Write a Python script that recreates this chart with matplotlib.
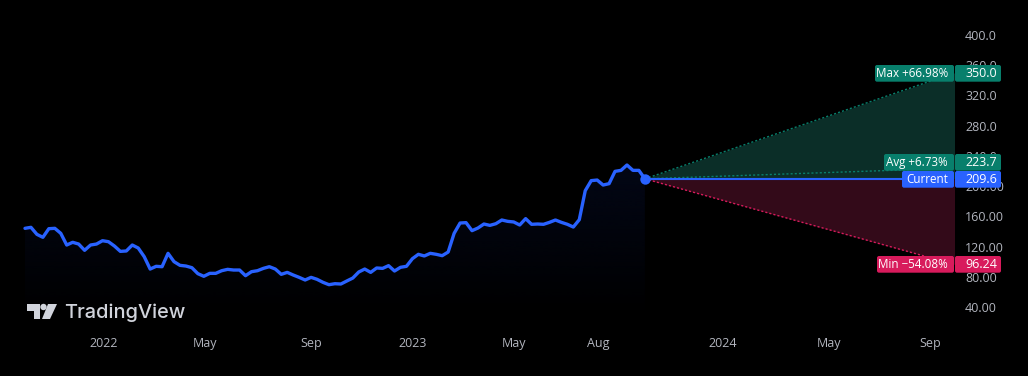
import numpy as np
import matplotlib
matplotlib.use('Agg')
import matplotlib.pyplot as plt
from matplotlib.patches import FancyBboxPatch, Polygon, Circle
from matplotlib.transforms import Affine2D

# weekly closes
prices_a = [144.1, 145.4, 136.1, 132.2, 143.6, 144.1, 137.5, 122.0, 125.6, 123.3,
            115.0, 122.0, 123.3, 127.7, 126.4, 120.7, 113.6, 114.1, 122.0, 118.0,
            106.6, 90.2, 93.8, 93.3, 111.0, 100.0, 95.1, 94.2, 92.0, 84.1,
            80.6, 84.5, 84.5, 88.0, 89.8, 88.9, 88.9, 81.4, 86.7, 88.0,
            91.1, 93.3, 90.2, 83.2, 85.8, 82.3, 79.2, 75.7, 79.2, 76.6,
            72.6, 69.5, 70.8]
prices_b = [70.4, 74.4, 78.3, 86.3, 90.2, 85.8, 91.6, 91.1, 94.7, 87.6,
            92.5, 93.8, 103.9, 109.7, 107.5, 111.0, 109.7, 107.9, 112.7, 137.4,
            151.1, 151.6, 141.0, 144.5, 149.8, 148.0, 150.2, 155.1, 153.3, 152.5,
            148.5, 156.9, 149.4, 149.8, 149.4, 152.0, 155.1, 152.0, 149.4, 145.8,
            155.5, 193.9, 207.2, 208.0, 201.4, 203.2, 219.5, 220.8, 227.9, 220.8,
            220.8, 209.8]
prices = np.array(prices_a + prices_b)

current = 209.6
target_max = 350.0
target_avg = 223.7
target_min = 96.24
horizon_weeks = 52

y_ticks = [400, 360, 320, 280, 240, 200, 160, 120, 80, 40]
y_tick_labels = ['400.0', '360.0', '320.0', '280.0', '240.0', '200.00', '160.00', '120.00', '80.00', '40.00']
x_tick_bars = [13.25, 30.2, 48.1, 65.1, 82.0, 96.1, 117, 134.9, 151.9]
x_tick_labels = ['2022', 'May', 'Sep', '2023', 'May', 'Aug', '2024', 'May', 'Sep']

BLUE = '#2962ff'
GREEN = '#087f6c'
RED = '#d81b5c'
W, H = 1028, 376
FONT = ['Open Sans', 'DejaVu Sans']

fig = plt.figure(figsize=(W / 100, H / 100), dpi=100, facecolor='black')
ax = fig.add_axes([0, (H - 330) / H, 954 / W, 330 / H], facecolor='black')

bars = np.arange(len(prices))
last = bars[-1]
end = last + horizon_weeks

# faint gradient under the line
grad = np.linspace(0, 1, 256).reshape(-1, 1)
rgba = np.zeros((256, 1, 4))
rgba[..., 0] = 3 / 255
rgba[..., 1] = 7 / 255
rgba[..., 2] = 22 / 255
rgba[..., 3] = 1 - grad
im = ax.imshow(rgba, extent=[bars[0], last, 25, prices.max()], aspect='auto', zorder=1)
area = ax.fill_between(bars, prices, 25, color='none')
im.set_clip_path(area.get_paths()[0], transform=ax.transData)

# forecast cone
ax.fill_between([last, end], [current, current], [current, target_max], color='#0b2e28', lw=0, zorder=2)
ax.fill_between([last, end], [current, current], [current, target_min], color='#330a19', lw=0, zorder=2)
ax.plot([last, end], [current, target_max], color=GREEN, lw=1, ls=(0, (1.5, 1.5)), zorder=3)
ax.plot([last, end], [current, target_avg], color=GREEN, lw=1, ls=(0, (1.5, 1.5)), zorder=3)
ax.plot([last, end], [current, target_min], color=RED, lw=1, ls=(0, (1.5, 1.5)), zorder=3)
ax.plot([last, end], [current, current], color=BLUE, lw=1.5, zorder=4)

ax.plot(bars, prices, color=BLUE, lw=2.4, solid_joinstyle='round', solid_capstyle='round', zorder=5)
ax.plot([last], [current], 'o', color=BLUE, ms=7.5, mew=0, zorder=6)

ax.set_xlim((0 - 25) / 5.96, (954 - 25) / 5.96)
ax.set_ylim((337.2 - 330) / 0.7556, 337.2 / 0.7556)

for s in ax.spines.values():
    s.set_visible(False)
ax.yaxis.tick_right()
ax.set_yticks(y_ticks, y_tick_labels, fontfamily=FONT, fontsize=9, color='#b2b5be')
ax.set_xticks(x_tick_bars, x_tick_labels, fontfamily=FONT, fontsize=9, color='#b2b5be')
ax.tick_params(axis='y', length=0, pad=8)
ax.tick_params(axis='x', length=0, pad=5)

# pixel coordinates (origin top left) for the labels and the logo
px = Affine2D().scale(1 / W, -1 / H).translate(0, 1) + fig.transFigure


def box(x0, y0, x1, y1, color):
    fig.add_artist(FancyBboxPatch((x0 + 2, y0 + 2), x1 - x0 - 4, y1 - y0 - 4,
                                  boxstyle='round,pad=2,rounding_size=2', fc=color, ec='none',
                                  transform=px, zorder=2))


def label(left, top, name, value, color):
    bottom = top + 16.7
    box(left, top, 954, bottom, color)
    box(955, top, 1001, bottom, color)
    mid = top + 8.2
    fig.text(948 / W, 1 - mid / H, name, color='white', fontsize=8.4, fontweight='medium', family=FONT,
             ha='right', va='center', zorder=3)
    fig.text(965 / W, 1 - mid / H, value, color='white', fontsize=9, fontweight='medium', family=FONT,
             ha='left', va='center', zorder=3)


label(875, 65, 'Max +66.98%', '350.0', GREEN)
label(884, 154, 'Avg +6.73%', '223.7', GREEN)
label(902, 171, 'Current', '209.6', BLUE)
label(877, 256, 'Min \u221254.08%', '96.24', RED)

# TradingView logo
LOGO = '#d1d4dc'
fig.add_artist(Polygon([(27, 304), (40, 304), (40, 319), (33.5, 319), (33.5, 311), (27, 311)],
                       closed=True, fc=LOGO, ec='none', transform=px, zorder=2))
fig.add_artist(Circle((43.5, 307), 3.2, fc=LOGO, ec='none', transform=px, zorder=2))
fig.add_artist(Polygon([(48, 304), (57, 304), (50, 319), (42, 319)],
                       closed=True, fc=LOGO, ec='none', transform=px, zorder=2))
fig.text(64 / W, 1 - 312.5 / H, 'TradingView', color=LOGO, fontsize=14.4, fontweight='medium',
         family=['Inter', 'DejaVu Sans'], ha='left', va='center', zorder=3)

fig.savefig('out.png', dpi=100, facecolor='black')
